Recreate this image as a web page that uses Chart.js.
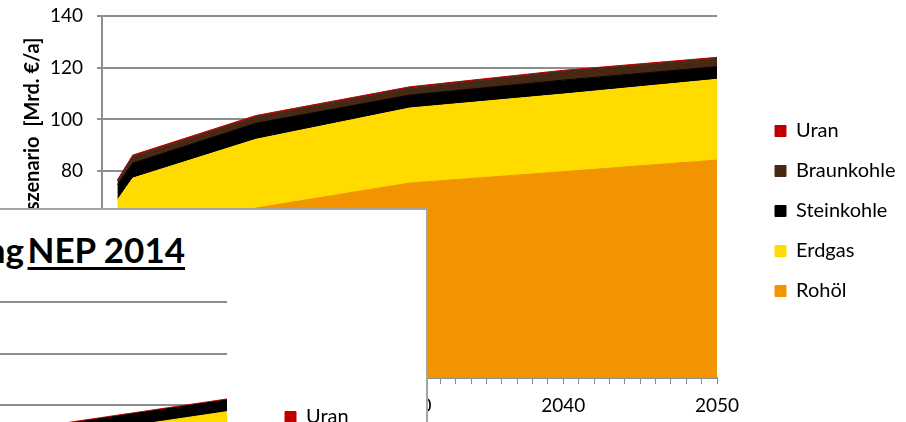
<!DOCTYPE html>
<html>
<head>
<meta charset="utf-8">
<script src="https://cdn.jsdelivr.net/npm/chart.js@4.4.1/dist/chart.umd.min.js"></script>
<style>
  html, body { margin: 0; padding: 0; background: #fff; }
  body { width: 906px; height: 422px; overflow: hidden; position: relative; }
  #main { position: absolute; left: 0; top: 0; }
  /* weisser Kasten, der das Diagramm teilweise verdeckt */
  #overlay { position: absolute; left: -10px; top: 208px; width: 434px; height: 260px;
             border: 2px solid #a5a5a5; background: #fff; overflow: hidden; }
  #inner { position: absolute; left: -482px; top: 76px; }
  #ttl { position: absolute; right: 241px; top: 22px; font: bold 35px Lato, sans-serif;
         line-height: 1; white-space: nowrap; color: #000; word-spacing: -5px; }
  #ttl u { text-decoration-thickness: 3px; text-underline-offset: 4px; word-spacing: 0; }
</style>
</head>
<body>
<canvas id="main" width="906" height="422"></canvas>
<div id="overlay">
  <canvas id="inner" width="906" height="422"></canvas>
  <div id="ttl">Kostenentwicklung <u>NEP 2014</u></div>
</div>
<script>
const years = [2011, 2012, 2020, 2030, 2040, 2050];
const seriesNames = ['Rohöl', 'Erdgas', 'Steinkohle', 'Braunkohle', 'Uran'];
const seriesColors = ['#f29400', '#ffdb00', '#000000', '#472814', '#c00000'];

// Referenzszenario (Mrd. €/a)
const rohoel = [53, 57, 65.7, 75.4, 79.8, 84.3];
const erdgas = [15.8, 20.3, 26.6, 29.0, 30.0, 31.2];
const steinkohle = [5.9, 5.8, 6.2, 5.0, 5.4, 4.9];
const braunkohle = [1.5, 2.6, 2.5, 2.8, 3.4, 3.2];
const uran = [0.4, 0.5, 0.5, 0.4, 0.4, 0.4];

// Diagramm im Kasten (NEP 2014), nur oben rechts sichtbar
const rohoelNep = [53, 57, 58, 55, 56, 58];
const erdgasNep = [15.8, 20.3, 22, 25, 32.8, 39.6];
const steinkohleNep = [5.9, 5.8, 5.5, 4.6, 4.5, 4.5];
const braunkohleNep = [1.5, 2.6, 2.0, 0, 0, 0];
const uranNep = [0.4, 0.5, 0.5, 0.4, 0.4, 0.4];

const yTicks = [0, 20, 40, 60, 80, 100, 120, 140];
const xLabels = [2010, 2020, 2030, 2040, 2050];
const yTitle = 'Kosten Referenzszenario  [Mrd. €/a]';

const FONT = 'Lato';
const GRID = '#8e8e8e';

// Legende an feste Stelle rechts neben dem Diagramm
const legendPlace = {
  id: 'legendPlace',
  afterLayout(chart) {
    const lg = chart.legend;
    const w = lg.width;
    lg.left = 775 - lg.options.labels.padding;
    lg.right = lg.left + w;
  }
};

function makeChart(id, values) {
  const datasets = values.map((vals, i) => ({
    label: seriesNames[i],
    data: years.map((yr, j) => ({ x: yr, y: vals[j] })),
    backgroundColor: seriesColors[i],
    borderColor: seriesColors[i],
    borderWidth: 1,
    pointRadius: 0,
    tension: 0,
    fill: i === 0 ? 'origin' : '-1'
  }));

  return new Chart(document.getElementById(id), {
    type: 'line',
    data: { datasets },
    options: {
      responsive: false,
      animation: false,
      events: [],
      layout: { padding: 0 },
      plugins: {
        tooltip: { enabled: false },
        legend: {
          position: 'right',
          reverse: true,
          labels: {
            boxWidth: 11,
            boxHeight: 11,
            padding: 20,
            color: '#000',
            font: { family: FONT, size: 20 }
          }
        }
      },
      scales: {
        x: {
          type: 'linear',
          min: 2010,
          max: 2050,
          afterBuildTicks: s => {
            const t = [];
            for (let v = 2010; v <= 2050; v++) t.push({ value: v });
            s.ticks = t;
          },
          ticks: {
            autoSkip: false,
            maxRotation: 0,
            padding: 10,
            color: '#000',
            font: { family: FONT, size: 19 },
            callback: v => xLabels.includes(v) ? String(v) : ''
          },
          grid: { drawOnChartArea: false, color: '#8a8a8a', lineWidth: 1, tickLength: 6 },
          border: { color: GRID, width: 2 },
          afterFit: s => { s.height = 44; s.paddingRight = 189; }
        },
        y: {
          stacked: true,
          min: 0,
          max: 140,
          afterBuildTicks: s => { s.ticks = yTicks.map(v => ({ value: v })); },
          ticks: {
            padding: 14,
            color: '#000',
            font: { family: FONT, size: 19 }
          },
          grid: { color: GRID, lineWidth: 2, tickLength: 5 },
          border: { color: GRID, width: 2 },
          title: {
            display: true,
            text: yTitle,
            color: '#000',
            font: { family: FONT, size: 20, weight: 'bold' },
            padding: { top: 21, bottom: 0 }
          },
          afterFit: s => { s.width = 102; s.paddingTop = 16; }
        }
      }
    },
    plugins: [legendPlace]
  });
}

makeChart('main', [rohoel, erdgas, steinkohle, braunkohle, uran]);
makeChart('inner', [rohoelNep, erdgasNep, steinkohleNep, braunkohleNep, uranNep]);
</script>
</body>
</html>
